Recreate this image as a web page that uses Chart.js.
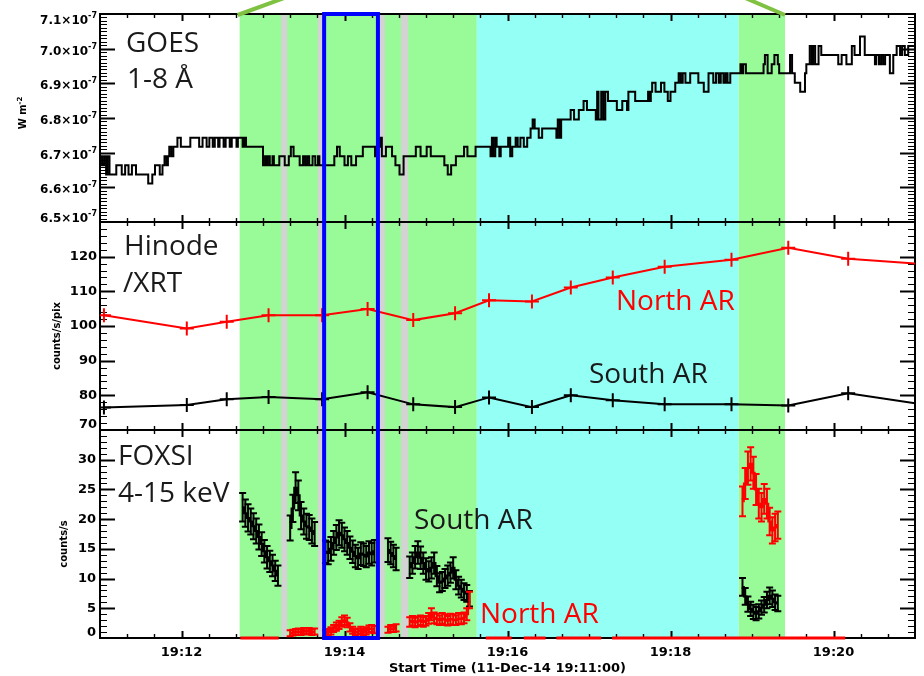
<!DOCTYPE html>
<html>
<head>
<meta charset="utf-8">
<script src="https://cdn.jsdelivr.net/npm/chart.js@4.4.1/dist/chart.umd.min.js"></script>
<style>
  html, body { margin: 0; padding: 0; background: #ffffff; }
  canvas { display: block; }
</style>
</head>
<body>
<canvas id="c" width="924" height="676"></canvas>
<script>
// Times are seconds after 19:11:00 UT, 11-Dec-2014.

// GOES 1-8 Å flux, step samples (units of 1e-7 W m^-2)
const goesTime = [
  0, 1.5, 3, 4.5, 5.5, 7, 12, 16, 18.5, 21,
  23.5, 26.5, 35.5, 38.5, 40.5, 44, 46, 47.5, 49, 50,
  51, 52.5, 54, 57, 59.5, 66.5, 73, 75.5, 78.5, 80.5,
  83, 84.5, 87, 88, 91, 92.5, 95.5, 97, 100.5, 101.5,
  105, 106, 107.5, 120, 121.5, 122.5, 123.5, 125, 127, 128,
  132, 136, 139, 140.5, 142.5, 147, 149.5, 151, 152.5, 154,
  156.5, 158.5, 160.5, 161.5, 172.5, 174.5, 176.5, 180, 182.5, 185,
  188.5, 193.5, 202.5, 203.5, 204.5, 205.5, 206.5, 207.5, 210.5, 215,
  217.5, 220.5, 223.5, 232.5, 236, 240.5, 243.5, 253.5, 256, 258.5,
  262, 268, 270.5, 276.5, 287.5, 288.5, 289.5, 291, 292, 294,
  295, 300.5, 302, 303.5, 306, 307.5, 309.5, 312, 314.5, 317,
  318.5, 320, 323, 325.5, 336, 337, 338.5, 339.5, 346.5, 349,
  352.5, 356, 358.5, 365, 366, 367, 369, 370.5, 372, 374,
  380.5, 384.5, 388, 389, 394, 403.5, 404.5, 405.5, 406.5, 409,
  413, 415.5, 418, 420, 423.5, 426, 427.5, 429, 431, 434.5,
  440.5, 444.5, 448, 451.5, 453.5, 455.5, 457, 459, 460.5, 462,
  464, 471.5, 472.5, 473.5, 475.5, 488.5, 489.5, 491.5, 494.5, 496.5,
  499, 500, 508, 509.5, 511.5, 515.5, 519, 520, 522.5, 524,
  525, 526.5, 529, 531, 543.5, 546, 549.5, 553.5, 555.5, 559.5,
  563, 570.5, 571.5, 573.5, 575, 576.5, 578, 581.5, 584, 586.5,
  589, 590.5, 592.5, 595, 600
];
const goesFlux = [
  6.690, 6.664, 6.690, 6.637, 6.690, 6.637, 6.664, 6.637, 6.664, 6.637,
  6.664, 6.637, 6.611, 6.637, 6.664, 6.637, 6.664, 6.690, 6.664, 6.690,
  6.717, 6.690, 6.717, 6.743, 6.717, 6.743, 6.717, 6.743, 6.717, 6.743,
  6.717, 6.743, 6.717, 6.743, 6.717, 6.743, 6.717, 6.743, 6.717, 6.743,
  6.717, 6.743, 6.717, 6.664, 6.690, 6.664, 6.690, 6.664, 6.690, 6.664,
  6.690, 6.664, 6.690, 6.717, 6.690, 6.664, 6.690, 6.664, 6.690, 6.664,
  6.690, 6.664, 6.690, 6.664, 6.690, 6.717, 6.690, 6.664, 6.690, 6.664,
  6.690, 6.717, 6.690, 6.717, 6.743, 6.717, 6.743, 6.690, 6.717, 6.690,
  6.664, 6.637, 6.690, 6.717, 6.690, 6.717, 6.690, 6.664, 6.637, 6.664,
  6.690, 6.717, 6.690, 6.717, 6.690, 6.743, 6.690, 6.743, 6.717, 6.690,
  6.717, 6.743, 6.690, 6.717, 6.743, 6.717, 6.743, 6.717, 6.743, 6.770,
  6.796, 6.770, 6.743, 6.770, 6.743, 6.796, 6.743, 6.796, 6.823, 6.796,
  6.823, 6.849, 6.823, 6.796, 6.876, 6.796, 6.876, 6.796, 6.876, 6.849,
  6.823, 6.849, 6.823, 6.876, 6.849, 6.876, 6.849, 6.876, 6.902, 6.876,
  6.902, 6.876, 6.849, 6.876, 6.902, 6.929, 6.902, 6.929, 6.902, 6.929,
  6.902, 6.876, 6.929, 6.902, 6.929, 6.902, 6.929, 6.902, 6.929, 6.902,
  6.929, 6.955, 6.929, 6.955, 6.929, 6.955, 6.982, 6.929, 6.955, 6.982,
  6.955, 6.929, 6.982, 6.929, 6.902, 6.876, 6.929, 6.955, 7.008, 6.955,
  7.008, 6.955, 7.008, 6.982, 6.955, 6.982, 6.955, 7.008, 6.982, 7.035,
  6.982, 6.955, 6.982, 6.955, 6.982, 6.955, 6.982, 6.929, 6.982, 7.008,
  6.982, 7.008, 6.982, 7.008, 6.982
];

// Hinode/XRT mean intensity (counts/s/pix)
const xrtTime  = [2.9, 63.9, 93.3, 124.1, 163.5, 197, 230.6, 261.4, 286.4, 318, 346.6, 377.5, 415.7, 464.9, 506.7, 550.8, 600];
const xrtNorth = [103.1, 99.3, 101.2, 103.1, 103.1, 104.9, 101.7, 103.7, 107.4, 107.1, 111.1, 114.0, 117.1, 119.1, 122.6, 119.4, 118.0];
const xrtSouth = [76.5, 77.2, 78.9, 79.5, 78.9, 80.9, 77.4, 76.6, 79.4, 76.6, 80.0, 78.6, 77.4, 77.4, 77.1, 80.6, 77.7];

// FOXSI 4-15 keV count rates (counts/s), 2 s bins
const foxsiTime = [
  105, 107, 109, 111, 113, 115, 117, 119, 121, 123, 125, 127, 129, 131,
  140, 142, 144, 146, 148, 150, 152, 154, 156, 158,
  166, 168, 170, 172, 174, 176, 178, 180, 182, 184, 186, 188, 190, 192, 194, 196, 198, 200, 202,
  212, 214, 216, 218,
  228, 230, 232, 234, 236, 238, 240, 242, 244, 246, 248, 250, 252, 254, 256, 258, 260, 262, 264, 266, 268, 270, 272,
  473, 475, 477, 479, 481, 483, 485, 487, 489, 491, 493, 495, 497, 499
];
const foxsiSouth = [
  22.0, 21.0, 20.2, 19.6, 18.8, 18.0, 17.0, 15.8, 14.6, 13.6, 12.9, 12.2, 11.3, 10.5,
  18.5, 21.8, 25.3, 24.0, 20.6, 19.6, 18.8, 18.6, 18.0, 17.5,
  14.5, 14.3, 15.0, 16.0, 16.9, 17.7, 17.3, 16.6, 16.0, 15.2, 14.5, 13.8, 13.4, 14.2, 14.0, 13.7, 14.4, 14.1, 14.6,
  14.8, 14.3, 13.8, 13.3,
  11.9, 12.6, 13.6, 14.4, 13.5, 12.6, 11.6, 11.2, 11.8, 12.6, 10.4, 9.3, 9.5, 10.0, 10.5, 11.0, 11.8, 9.8, 8.8, 8.3, 7.8, 7.5, 6.6,
  8.6, 7.0, 5.7, 4.9, 4.4, 4.1, 4.5, 5.1, 5.6, 6.4, 7.1, 6.6, 6.0, 5.8
];
const foxsiSouthErr = [
  2.4, 2.3, 2.3, 2.2, 2.2, 2.1, 2.1, 2.0, 1.9, 1.9, 1.8, 1.8, 1.7, 1.7,
  2.1, 2.3, 2.6, 2.5, 2.3, 2.2, 2.1, 2.1, 2.1, 2.0,
  1.9, 1.9, 2.0, 2.0, 2.1, 2.1, 2.1, 2.0, 2.0, 1.9, 1.9, 1.9, 1.8, 1.9, 1.9, 1.8, 1.9, 1.9, 1.9,
  2.0, 1.9, 1.9, 1.9,
  1.8, 1.8, 1.9, 1.9, 1.9, 1.8, 1.8, 1.7, 1.8, 1.8, 1.7, 1.6, 1.6, 1.6, 1.7, 1.7, 1.8, 1.6, 1.5, 1.5, 1.4, 1.4, 1.3,
  1.5, 1.4, 1.3, 1.2, 1.2, 1.1, 1.2, 1.2, 1.3, 1.4, 1.4, 1.4, 1.3, 1.3
];
const foxsiNorth = [
  null, null, null, null, null, null, null, null, null, null, null, null, null, null,
  0.8, 0.9, 1.0, 1.1, 1.0, 1.2, 1.1, 1.2, 1.0, 1.1,
  0.8, 1.0, 1.2, 1.6, 1.9, 2.2, 2.7, 3.0, 2.6, 1.8, 1.3, 1.0, 1.1, 1.3, 1.0, 1.2, 1.5, 1.6, 1.4,
  1.4, 1.6, 1.5, 1.7,
  2.7, 2.9, 2.6, 2.8, 3.0, 2.7, 2.9, 3.3, 4.0, 3.4, 3.2, 3.0, 3.3, 3.1, 2.9, 3.2, 3.1, 3.0, 3.3, 3.2, 3.4, 4.0, 6.4,
  23.0, 26.0, 28.6, 29.3, 27.8, 25.0, 22.6, 22.0, 23.4, 22.6, 19.6, 18.1, 18.6, 19.0
];
const foxsiNorthErr = [
  null, null, null, null, null, null, null, null, null, null, null, null, null, null,
  0.5, 0.5, 0.5, 0.5, 0.5, 0.5, 0.5, 0.5, 0.5, 0.5,
  0.5, 0.5, 0.6, 0.6, 0.7, 0.7, 0.8, 0.8, 0.8, 0.7, 0.6, 0.5, 0.5, 0.6, 0.5, 0.6, 0.6, 0.6, 0.6,
  0.5, 0.6, 0.5, 0.6,
  0.8, 0.8, 0.8, 0.8, 0.8, 0.8, 0.8, 0.9, 1.0, 0.9, 0.9, 0.8, 0.9, 0.9, 0.8, 0.9, 0.9, 0.8, 0.9, 0.9, 0.9, 1.0, 1.4,
  2.5, 2.6, 2.8, 2.8, 2.7, 2.6, 2.5, 2.4, 2.5, 2.5, 2.3, 2.2, 2.3, 2.3
];
// Intervals where the north AR rate is zero
const northZeroSpans = [[103.3, 131.6], [284, 303], [312, 328], [336, 369], [377, 548.6]];

// Pointing intervals (seconds after 19:11:00)
const greenSpans = [[102.8, 277.4], [470, 504.3]];
const cyanSpans  = [[277.4, 470]];
const graySpans  = [[133.4, 137.8], [160.3, 164.0], [206.1, 209.8], [221.6, 226.9]];
const blueSpan   = [165.0, 204.6];

// Axis tick labels
const timeTickValues = [60, 180, 300, 420, 540];
const timeTickLabels = ['19:12', '19:14', '19:16', '19:18', '19:20'];
const goesTickValues = [6.5, 6.6, 6.7, 6.8, 6.9, 7.0, 7.1];
const xrtTickValues  = [70, 80, 90, 100, 110, 120];
const foxsiTickValues = [0, 5, 10, 15, 20, 25, 30];

// ---- build Chart.js data ----
// FOXSI bins: break the histogram line where consecutive bins are not adjacent
function binnedPoints(times, values) {
  const out = [];
  for (let i = 0; i < times.length; i++) {
    if (i > 0 && times[i] - times[i - 1] > 2.5) {
      out.push({ x: (times[i] + times[i - 1]) / 2, y: null });
    }
    out.push({ x: times[i], y: values[i] });
  }
  return out;
}
function samplePoints(times, values) {
  return times.map((t, i) => ({ x: t, y: values[i] }));
}
function spanPoints(spans) {
  const out = [];
  spans.forEach((s, i) => {
    if (i > 0) out.push({ x: (spans[i - 1][1] + s[0]) / 2, y: null });
    out.push({ x: s[0], y: 0 }, { x: s[1], y: 0 });
  });
  return out;
}

const RED = '#ff0000';
const BLACK = '#000000';
const TICK_FONT = 'bold 13px "DejaVu Sans"';
const SUP_FONT = 'bold 8px "DejaVu Sans"';
const TITLE_FONT = 'bold 10px "DejaVu Sans"';
const BIG_FONT = '28px "Open Sans"';

function drawPanelFrame(ctx, chart, ys, minorStep, majorEvery) {
  const area = chart.chartArea;
  const xs = chart.scales.x;
  const L = area.left, R = area.right, T = ys.top, B = ys.bottom;
  ctx.save();
  ctx.strokeStyle = '#000';
  ctx.lineWidth = 2;
  ctx.strokeRect(L, T, R - L, B - T);
  // time ticks, inward on top and bottom
  for (let t = 20; t < 600; t += 20) {
    const major = (t - 60) % 120 === 0;
    const len = major ? 7 : 4;
    const px = Math.round(xs.getPixelForValue(t)) + 0.5;
    ctx.lineWidth = major ? 2 : 1.4;
    ctx.beginPath();
    ctx.moveTo(px, B); ctx.lineTo(px, B - len);
    ctx.moveTo(px, T); ctx.lineTo(px, T + len);
    ctx.stroke();
  }
  // value ticks, inward on left and right
  const n = Math.round((ys.max - ys.min) / minorStep);
  for (let k = 1; k < n; k++) {
    const v = ys.min + k * minorStep;
    const major = k % majorEvery === 0;
    const len = major ? 15 : 7;
    const py = Math.round(ys.getPixelForValue(v)) + 0.5;
    ctx.lineWidth = major ? 2 : 1.2;
    ctx.beginPath();
    ctx.moveTo(L, py); ctx.lineTo(L + len, py);
    ctx.moveTo(R, py); ctx.lineTo(R - len, py);
    ctx.stroke();
  }
  ctx.restore();
}

function drawErrorBars(ctx, chart, ys, values, errs, color) {
  const xs = chart.scales.x;
  ctx.save();
  ctx.strokeStyle = color;
  ctx.lineWidth = 2;
  for (let i = 0; i < foxsiTime.length; i++) {
    const v = values[i], e = errs[i];
    if (v === null || e === null) continue;
    const px = xs.getPixelForValue(foxsiTime[i]);
    const y0 = ys.getPixelForValue(v - e), y1 = ys.getPixelForValue(v + e);
    ctx.beginPath();
    ctx.moveTo(px, y0); ctx.lineTo(px, y1);
    ctx.moveTo(px - 3.5, y0); ctx.lineTo(px + 3.5, y0);
    ctx.moveTo(px - 3.5, y1); ctx.lineTo(px + 3.5, y1);
    ctx.stroke();
  }
  ctx.restore();
}

function drawSupText(ctx, main, sup, x, baseline, align, mainFont, supFont, rise) {
  ctx.font = mainFont; const wm = ctx.measureText(main).width;
  ctx.font = supFont; const ws = ctx.measureText(sup).width;
  let x0 = x;
  if (align === 'right') x0 = x - wm - ws;
  else if (align === 'center') x0 = x - (wm + ws) / 2;
  ctx.textAlign = 'left';
  ctx.textBaseline = 'alphabetic';
  ctx.font = mainFont; ctx.fillText(main, x0, baseline);
  ctx.font = supFont; ctx.fillText(sup, x0 + wm, baseline - rise);
}

const panelsPlugin = {
  id: 'panels',
  beforeDatasetsDraw(chart) {
    const ctx = chart.ctx, area = chart.chartArea, xs = chart.scales.x;
    const fillSpans = (spans, color) => {
      ctx.fillStyle = color;
      spans.forEach(([a, b]) => {
        const x0 = xs.getPixelForValue(a), x1 = xs.getPixelForValue(b);
        ctx.fillRect(x0, area.top, x1 - x0, area.bottom - area.top);
      });
    };
    ctx.save();
    fillSpans(greenSpans, '#98fb98');
    fillSpans(cyanSpans, '#94fff5');
    fillSpans(graySpans, '#d3d3d3');
    ctx.restore();
    drawPanelFrame(ctx, chart, chart.scales.yGoes, 0.01, 10);
    drawPanelFrame(ctx, chart, chart.scales.yXrt, 2, 5);
    drawPanelFrame(ctx, chart, chart.scales.yFoxsi, 1, 5);
  },
  afterDatasetsDraw(chart) {
    const ctx = chart.ctx;
    const yf = chart.scales.yFoxsi;
    drawErrorBars(ctx, chart, yf, foxsiSouth, foxsiSouthErr, BLACK);
    drawErrorBars(ctx, chart, yf, foxsiNorth, foxsiNorthErr, RED);
  },
  afterDraw(chart) {
    const ctx = chart.ctx, area = chart.chartArea, xs = chart.scales.x;
    const yg = chart.scales.yGoes, yx = chart.scales.yXrt, yf = chart.scales.yFoxsi;
    ctx.save();

    // selected interval box
    const bx0 = xs.getPixelForValue(blueSpan[0]), bx1 = xs.getPixelForValue(blueSpan[1]);
    ctx.strokeStyle = '#0000ff';
    ctx.lineWidth = 4;
    ctx.strokeRect(bx0, area.top, bx1 - bx0, area.bottom - area.top);

    // connector lines to the overview above
    const gx0 = xs.getPixelForValue(greenSpans[0][0]);
    const gx1 = xs.getPixelForValue(greenSpans[1][1]);
    ctx.strokeStyle = '#7fc242';
    ctx.lineWidth = 4;
    ctx.beginPath();
    ctx.moveTo(gx0 - 2, area.top + 1); ctx.lineTo(gx0 + 50, area.top - 18);
    ctx.moveTo(gx1, area.top + 1); ctx.lineTo(gx1 - 42, area.top - 17);
    ctx.stroke();

    // tick labels
    ctx.fillStyle = '#000';
    const clampY = (y, s) => Math.max(s.top + 5, Math.min(s.bottom - 5, y));
    goesTickValues.forEach(v => {
      const y = clampY(yg.getPixelForValue(v) + 1.5, yg);
      drawSupText(ctx, v.toFixed(1) + '×10', '-7', 97, y + 4.5, 'right',
        'bold 12px "DejaVu Sans"', SUP_FONT, 6);
    });
    ctx.font = TICK_FONT;
    ctx.textAlign = 'right';
    ctx.textBaseline = 'middle';
    xrtTickValues.forEach(v => {
      ctx.fillText(String(v), 97, clampY(yx.getPixelForValue(v), yx));
    });
    foxsiTickValues.forEach(v => {
      ctx.fillText(String(v), 96, clampY(yf.getPixelForValue(v), yf));
    });
    ctx.textAlign = 'center';
    timeTickValues.forEach((t, i) => {
      ctx.fillText(timeTickLabels[i], xs.getPixelForValue(t), 653);
    });
    ctx.fillText('Start Time (11-Dec-14 19:11:00)', (area.left + area.right) / 2, 669);

    // axis titles
    const vTitle = (cx, cy, main, sup) => {
      ctx.save();
      ctx.translate(cx, cy);
      ctx.rotate(-Math.PI / 2);
      if (sup) {
        drawSupText(ctx, main, sup, 0, 3.5, 'center', TITLE_FONT, 'bold 7px "DejaVu Sans"', 4);
      } else {
        ctx.font = TITLE_FONT;
        ctx.textAlign = 'center';
        ctx.textBaseline = 'middle';
        ctx.fillText(main, 0, 0);
      }
      ctx.restore();
    };
    vTitle(22, 113, 'W m', '-2');
    vTitle(57, 336, 'counts/s/pix');
    vTitle(64, 544, 'counts/s');

    // panel annotations
    ctx.font = BIG_FONT;
    ctx.textAlign = 'left';
    ctx.textBaseline = 'alphabetic';
    ctx.fillStyle = '#1a1a1a';
    ctx.fillText('GOES', 126, 52);
    ctx.fillText('1-8 Å', 127, 88);
    ctx.fillText('Hinode', 124, 255);
    ctx.fillText('/XRT', 123, 292);
    ctx.fillText('FOXSI', 118, 465);
    ctx.fillText('4-15 keV', 118, 502);
    ctx.fillText('South AR', 589, 383);
    ctx.fillText('South AR', 414, 529);
    ctx.fillStyle = RED;
    ctx.fillText('North AR', 616, 310);
    ctx.fillText('North AR', 480, 623);
    ctx.restore();
  }
};

const chart = new Chart(document.getElementById('c'), {
  type: 'line',
  data: {
    datasets: [
      {
        label: 'GOES 1-8 Å',
        yAxisID: 'yGoes',
        data: samplePoints(goesTime, goesFlux),
        stepped: 'before',
        borderColor: BLACK,
        borderWidth: 2,
        pointRadius: 0
      },
      {
        label: 'XRT North AR',
        yAxisID: 'yXrt',
        data: samplePoints(xrtTime, xrtNorth),
        borderColor: RED,
        borderWidth: 2,
        pointStyle: 'cross',
        pointRadius: c => (c.raw && c.raw.x >= 600 ? 0 : 7),
        pointBorderColor: RED,
        pointBorderWidth: 2
      },
      {
        label: 'XRT South AR',
        yAxisID: 'yXrt',
        data: samplePoints(xrtTime, xrtSouth),
        borderColor: BLACK,
        borderWidth: 2,
        pointStyle: 'cross',
        pointRadius: c => (c.raw && c.raw.x >= 600 ? 0 : 7),
        pointBorderColor: BLACK,
        pointBorderWidth: 2
      },
      {
        label: 'FOXSI South AR',
        yAxisID: 'yFoxsi',
        data: binnedPoints(foxsiTime, foxsiSouth),
        stepped: 'middle',
        spanGaps: false,
        borderColor: BLACK,
        borderWidth: 2,
        pointRadius: 0
      },
      {
        label: 'FOXSI North AR',
        yAxisID: 'yFoxsi',
        data: binnedPoints(foxsiTime, foxsiNorth),
        stepped: 'middle',
        spanGaps: false,
        borderColor: RED,
        borderWidth: 2,
        pointRadius: 0
      },
      {
        label: 'FOXSI North AR (zero)',
        yAxisID: 'yFoxsi',
        data: spanPoints(northZeroSpans),
        spanGaps: false,
        clip: false,
        borderColor: RED,
        borderWidth: 3,
        pointRadius: 0
      }
    ]
  },
  options: {
    responsive: false,
    animation: false,
    devicePixelRatio: 1,
    layout: { padding: { left: 100, right: 7, top: 14, bottom: 38 } },
    plugins: { legend: { display: false }, tooltip: { enabled: false } },
    scales: {
      x: { type: 'linear', min: 0, max: 600, display: false },
      yGoes:  { type: 'linear', position: 'left', min: 6.5, max: 7.1, display: false, stack: 'panels', stackWeight: 1, weight: 3 },
      yXrt:   { type: 'linear', position: 'left', min: 70, max: 130, display: false, stack: 'panels', stackWeight: 1, weight: 2 },
      yFoxsi: { type: 'linear', position: 'left', min: 0, max: 35, display: false, stack: 'panels', stackWeight: 1, weight: 1 }
    }
  },
  plugins: [panelsPlugin]
});
</script>
</body>
</html>
